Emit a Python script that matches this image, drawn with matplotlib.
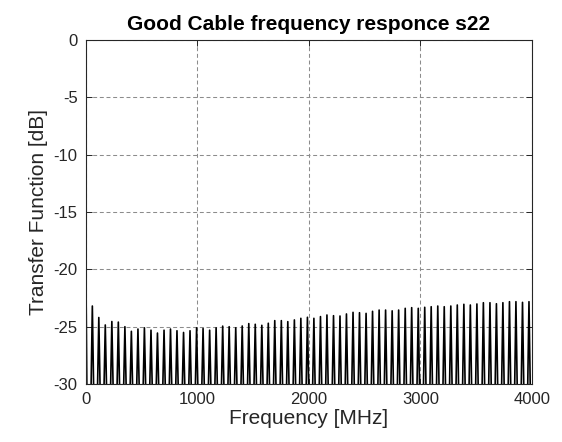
import matplotlib.pyplot as plt
import matplotlib as mpl
import numpy as np

# peak frequencies [MHz] and peak levels [dB]
peak_freq = [57, 115, 173, 232, 290, 349, 407, 466, 524, 583, 641, 700, 758, 816,
             875, 933, 992, 1050, 1109, 1167, 1226, 1284, 1343, 1401, 1460, 1518,
             1577, 1635, 1693, 1752, 1810, 1869, 1927, 1986, 2044, 2103, 2161,
             2220, 2278, 2336, 2395, 2453, 2512, 2570, 2629, 2687, 2746, 2804,
             2863, 2921, 2980, 3038, 3096, 3155, 3213, 3272, 3330, 3389, 3447,
             3506, 3564, 3623, 3681, 3739, 3798, 3856, 3915, 3973]
peak_db = [-23.2, -24.2, -24.85, -24.55, -24.6, -25.0, -25.4, -25.2, -25.1, -25.3,
           -25.55, -25.3, -25.2, -25.35, -25.5, -25.35, -25.1, -25.15, -25.3, -25.1,
           -24.95, -25.0, -25.1, -24.94, -24.73, -24.79, -24.88, -24.7, -24.47,
           -24.47, -24.56, -24.41, -24.27, -24.18, -24.27, -24.12, -23.98, -24.04,
           -24.07, -23.89, -23.75, -23.78, -23.84, -23.66, -23.55, -23.55, -23.62,
           -23.55, -23.4, -23.34, -23.4, -23.31, -23.26, -23.2, -23.26, -23.2,
           -23.11, -23.05, -23.11, -23.02, -22.91, -22.91, -23.0, -22.91, -22.82,
           -22.82, -22.88, -22.82]
start_db = -21.0
floor_db = -30.6
half_w = 12

# build the trace: narrow spikes rising from below the axis floor
x = [0, 8]
y = [start_db, floor_db]
for f, p in zip(peak_freq, peak_db):
    x += [f - half_w, f, f + half_w]
    y += [floor_db, p, floor_db]
x.append(4000)
y.append(floor_db)

mpl.rcParams['font.family'] = ['Liberation Sans', 'DejaVu Sans']
mpl.rcParams['axes.unicode_minus'] = False

fig = plt.figure(figsize=(5.62, 4.42), dpi=100)
ax = fig.add_axes([0.153, 0.131, 0.7936, 0.779])
ax.plot(x, y, color='black', lw=1.2, clip_on=True)

ax.set_xlim(0, 4000)
ax.set_ylim(-30, 0)
ax.set_xticks([0, 1000, 2000, 3000, 4000])
ax.set_yticks([-30, -25, -20, -15, -10, -5, 0])
ax.grid(True, color='#8c8c8c', linestyle=(0, (3.8, 2.6)), lw=0.75)
ax.tick_params(direction='in', top=True, right=True, length=4, width=0.7,
               labelsize=12, colors='#262626', pad=6)
for s in ax.spines.values():
    s.set_color('#262626')
    s.set_linewidth(0.8)

ax.set_xlabel('Frequency [MHz]', fontsize=15, color='#262626', labelpad=1)
ax.set_ylabel('Transfer Function [dB]', fontsize=15, color='#262626', labelpad=4)
ax.set_title('Good Cable frequency responce s22', fontsize=15, fontweight='bold', pad=7)

plt.savefig('out.png', dpi=100)
